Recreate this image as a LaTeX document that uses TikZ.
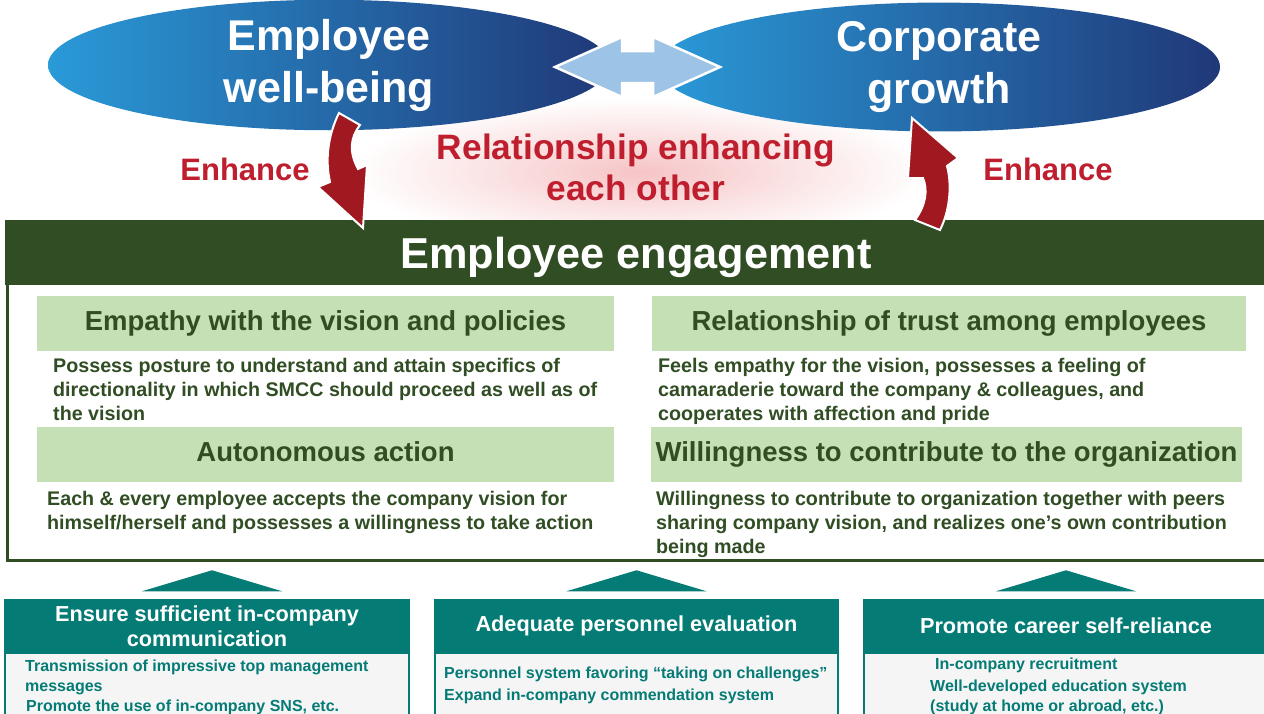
\documentclass[tikz,border=0pt]{standalone}
\usepackage{fontspec}
\setmainfont{Liberation Sans}
\usetikzlibrary{shapes.geometric,positioning}
\definecolor{skyblue}{RGB}{42,154,216}
\definecolor{midblue}{RGB}{6,102,178}
\definecolor{navyblue}{RGB}{32,56,120}
\definecolor{paleblue}{RGB}{157,195,230}
\definecolor{deepred}{RGB}{160,25,32}
\definecolor{txtred}{RGB}{190,30,45}
\definecolor{glowpink}{RGB}{246,196,198}
\definecolor{forest}{RGB}{48,77,35}
\definecolor{mint}{RGB}{197,224,180}
\definecolor{tealbox}{RGB}{5,123,118}
\definecolor{panelgray}{RGB}{245,245,245}
\tikzstyle{goal} = [ellipse, minimum width=562pt, minimum height=112pt, inner sep=0pt, left color=skyblue, middle color=midblue, right color=navyblue, text=white, align=center, font=\bfseries\fontsize{43}{52}\selectfont]
\tikzstyle{enh} = [text=txtred, align=center, font=\bfseries\fontsize{31}{36}\selectfont]
\tikzstyle{bar} = [fill=forest, minimum width=1262pt, minimum height=65pt, inner sep=0pt]
\tikzstyle{title} = [text=white, inner sep=0pt, font=\bfseries\fontsize{43.3}{50}\selectfont]
\tikzstyle{frame} = [draw=forest, line width=3pt, fill=white]
\tikzstyle{pillar} = [fill=mint, minimum height=55pt, inner sep=0pt, text height=20pt, text depth=6pt, text=forest, font=\bfseries\fontsize{27.5}{32}\selectfont]
\tikzstyle{desc} = [anchor=west, align=left, inner sep=0pt, text=forest, font=\bfseries\fontsize{19.7}{24}\selectfont]
\tikzstyle{measure} = [fill=tealbox, draw=tealbox, line width=1.5pt, minimum width=403pt, minimum height=52pt, inner sep=0pt, text=white, align=center, font=\bfseries\fontsize{21.7}{25}\selectfont]
\tikzstyle{panel} = [fill=panelgray, draw=tealbox, line width=1.5pt, minimum width=403pt, minimum height=90pt, inner sep=0pt]
\tikzstyle{item} = [anchor=west, align=left, inner sep=0pt, text=tealbox, font=\bfseries\fontsize{16}{20}\selectfont]
\tikzstyle{biarrow} = [fill=paleblue, draw=white, line width=2.5pt, line join=miter]
\tikzstyle{bigarrow} = [fill=deepred, draw=white, line width=2pt, line join=miter]
\tikzstyle{up} = [fill=tealbox]

\begin{document}
\begin{tikzpicture}[x=1pt, y=-1pt]
\useasboundingbox (0,0) rectangle (1264,713);
\shade [inner color=glowpink, outer color=white] (640,172) ellipse (290 and 74);
\node (EmpWell)[goal] at (329,65) {Employee\\well-being};
\node (CorpGrow)[goal] at (939,67) {Corporate\\growth};
\filldraw [biarrow] (555,67) -- (622,37) -- (622,51) -- (653,51) -- (653,37) -- (720,67)
  -- (653,97) -- (653,83) -- (622,83) -- (622,97) -- cycle;
\node (Mutual)[enh, font=\bfseries\fontsize{35.3}{41}\selectfont] at (636,167) {Relationship enhancing\\each other};
\node (EnhL)[enh] at (245,169) {Enhance};
\node (EnhR)[enh] at (1048,169) {Enhance};

\draw [frame] (7,221) rectangle (1275,560);
\node (EngBar)[bar] at (636,252.5) {};
\node (EngTitle)[title] at (636,257) {Employee engagement};
\filldraw [bigarrow] (339,113) .. controls (328,135) and (325,160) .. (330,182) -- (318,187)
  -- (363,228) -- (367,165) -- (358,169) .. controls (349,152) and (350,138) .. (360,125) -- cycle;
\filldraw [bigarrow] (912,118) -- (958,158) -- (947,166) .. controls (952,185) and (950,210) .. (940,230)
  -- (915,220) .. controls (926,205) and (928,190) .. (923,178) -- (908,178) -- cycle;

\node (Empathy)[pillar, minimum width=577pt] at (325.5,323.5) {Empathy with the vision and policies};
\node (Trust)[pillar, minimum width=594pt] at (949,323.5) {Relationship of trust among employees};
\node (Auto)[pillar, minimum width=577pt] at (325.5,454.5) {Autonomous action};
\node (Will)[pillar, minimum width=591pt] at (946.5,454.5) {Willingness to contribute to the organization};
\node (EmpText)[desc] at (53,389) {Possess posture to understand and attain specifics of\\directionality in which SMCC should proceed as well as of\\the vision};
\node (TrustText)[desc] at (658,391) {Feels empathy for the vision, possesses a feeling of\\camaraderie toward the company \& colleagues, and\\cooperates with affection and pride};
\node (AutoText)[desc] at (47,512) {Each \& every employee accepts the company vision for\\himself/herself and possesses a willingness to take action};
\node (WillText)[desc] at (656,524) {Willingness to contribute to organization together with peers\\sharing company vision, and realizes one’s own contribution\\being made};

\node (Comm)[measure, minimum width=404pt] at (207,626) {Ensure sufficient in-company\\communication};
\node (Eval)[measure] at (636.5,626) {Adequate personnel evaluation};
\node (Career)[measure, minimum width=404pt] at (1066,626) {Promote career self-reliance};
\node (CommBody)[panel, minimum width=404pt, below=0pt of Comm] {};
\node (EvalBody)[panel, below=0pt of Eval] {};
\node (CareerBody)[panel, minimum width=404pt, below=0pt of Career] {};
\foreach \blk/\dx in {Comm/5, Eval/0, Career/0}
  \fill [up] ([xshift=\dx pt-70pt, yshift=8pt]\blk.north) -- ([xshift=\dx pt, yshift=29pt]\blk.north)
    -- ([xshift=\dx pt+70pt, yshift=8pt]\blk.north) -- cycle;
\node (CommA)[item] at (25,677) {Transmission of impressive top management\\messages};
\node (CommB)[item] at (26,707) {Promote the use of in-company SNS, etc.};
\node (EvalA)[item] at (444,674) {Personnel system favoring “taking on challenges”};
\node (EvalB)[item] at (444,696) {Expand in-company commendation system};
\node (CareerA)[item] at (935,665) {In-company recruitment};
\node (CareerB)[item] at (930,697) {Well-developed education system\\(study at home or abroad, etc.)};
\end{tikzpicture}
\end{document}
